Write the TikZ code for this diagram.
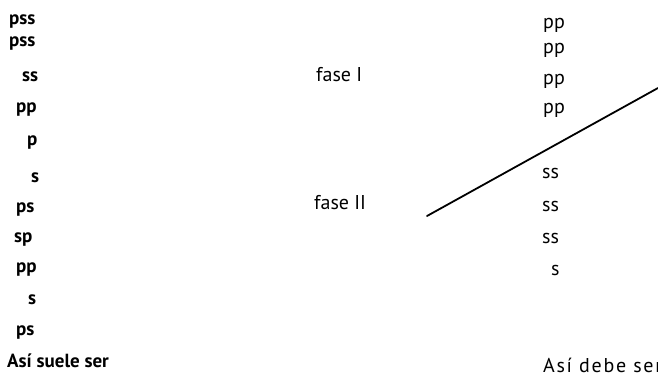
\documentclass[tikz,border=0pt]{standalone}
\usepackage{fontspec}
\setmainfont{PT Sans}
\begin{document}
\begin{tikzpicture}[x=1pt,y=-1pt,
  lab/.style={anchor=base west,inner sep=0pt,font=\bfseries\fontsize{19}{19}\selectfont},
  rlab/.style={anchor=base west,inner sep=0pt,font=\fontsize{20}{20}\selectfont},
  lcaption/.style={anchor=base west,inner sep=0pt,font=\bfseries\fontsize{19}{19}\selectfont},
  rcaption/.style={anchor=base west,inner sep=0pt,font=\addfontfeatures{LetterSpace=8.6}\fontsize{20}{20}\selectfont},
  fase/.style={anchor=base west,inner sep=0pt,font=\fontsize{20}{20}\selectfont}]
\useasboundingbox (0,0) rectangle (658,375);
\clip (0,0) rectangle (658,375);
% left column
\node[lab] (l1) at (9,24) {pss};
\node[lab] (l2) at (9,46) {pss};
\node[lab] (l3) at (22,81) {ss};
\node[lab] (l4) at (16,112) {pp};
\node[lab] (l5) at (27,145) {p};
\node[lab] (l6) at (31,182) {s};
\node[lab] (l7) at (16,212) {ps};
\node[lab] (l8) at (14,242) {sp};
\node[lab] (l9) at (16,272) {pp};
\node[lab] (l10) at (28,304) {s};
\node[lab] (l11) at (16,335) {ps};
\node[lcaption] (lc) at (7,367) {Así suele ser};
% middle
\node[fase] (f1) at (316,81) {fase I};
\node[fase] (f2) at (314,209) {fase II};
% right column
\node[rlab] (r1) at (543,28) {pp};
\node[rlab] (r2) at (543,53) {pp};
\node[rlab] (r3) at (543,84) {pp};
\node[rlab] (r4) at (543,113) {pp};
\node[rlab] (r5) at (542,178) {ss};
\node[rlab] (r6) at (542,211) {ss};
\node[rlab] (r7) at (542,243) {ss};
\node[rlab] (r8) at (551,275) {s};
\node[rcaption] (rc) at (543,372) {Así debe ser};
% diagonal line
\coordinate (a) at (427,216);
\coordinate (b) at (658,88);
\draw[line width=1.8pt,line cap=round] (a) -- (b);
\end{tikzpicture}
\end{document}
